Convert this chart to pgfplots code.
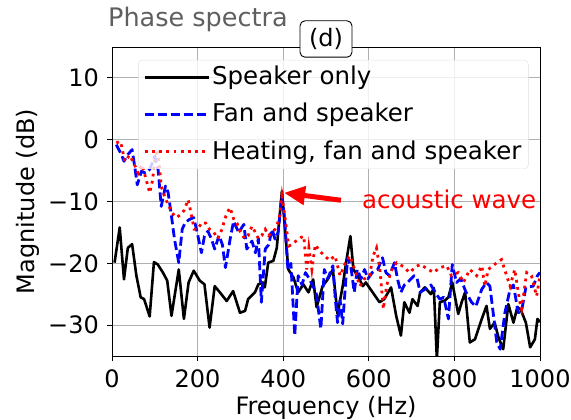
\documentclass[border=0pt]{standalone}
\usepackage{pgfplots}
\pgfplotsset{compat=1.18}
\usepackage{fontspec}
\setmainfont{DejaVu Sans}
\usetikzlibrary{calc,arrows.meta}
\definecolor{gridgray}{RGB}{176,176,176}
\definecolor{titlegray}{RGB}{95,95,95}
\pgfplotstableread{
f v
6 -19.9
18 -14.2
28 -22.6
37 -17.5
47 -16.9
57 -22
67 -25.5
75 -25.8
88 -28.6
98 -19.8
107 -20.2
119 -21.5
129 -22.8
139 -28.5
156 -21
168 -29
179 -23.1
191 -21.2
205 -22.8
216 -23.4
228 -30.4
240 -23.7
252 -24.7
268 -26.1
283 -24.5
299 -28
311 -27.7
318 -25.8
334 -24.7
342 -23.4
353 -23.1
357 -23.9
365 -19.9
377 -19.6
385 -17.5
397 -8.3
412 -21
424 -22.3
435 -24.7
447 -23.4
459 -24.7
470 -22.6
478 -27.1
492 -23.7
504 -22.6
516 -21
527 -28.2
539 -23.7
548 -19.4
557 -15.6
564 -21
574 -22
586 -23.7
593 -23.1
609 -24.7
625 -26.3
636 -25.8
652 -23.9
664 -28.5
675 -31.7
683 -26.3
695 -28
702 -25.8
714 -26.9
720 -24.7
731 -23.9
745 -25
752 -24
759 -35.5
766 -26.3
778 -26
786 -25.5
795 -23.1
809 -28.2
817 -26.3
825 -24.7
836 -32.8
848 -32.3
864 -29
875 -26.9
883 -30.6
894 -29.6
903 -32
914 -33.9
926 -26.6
938 -29.6
947 -27.1
955 -27.5
967 -29.6
977 -33.6
988 -32.3
994 -29
1000 -29.5
}\speaker
\pgfplotstableread{
f v
10 -0.8
22 -2.4
28 -3.5
37 -2.4
47 -1.6
53 -4.3
59 -7.3
69 -5.1
78 -5.4
88 -4.8
100 -2.7
108 -5
115 -10.8
125 -7.5
131 -8.5
139 -12.4
146 -16.1
156 -19.9
164 -14.5
171 -13.4
181 -12.9
191 -12.6
199 -15
209 -18.3
216 -15.6
224 -14.8
232 -16
240 -17.7
250 -15.5
258 -17
265 -20.7
276 -16.1
284 -13.2
296 -15
308 -13.7
315 -17.7
327 -16.4
335 -18.3
342 -16
349 -26.3
358 -17.7
366 -17
374 -14.5
381 -16.1
388 -15
397 -9.1
403 -12.5
411 -21
418 -20
427 -31.7
435 -22
444 -23.5
452 -21.5
461 -22.5
468 -23.5
477 -24.7
484 -28.5
488 -30.6
496 -21
504 -22.5
516 -20.4
522 -26
527 -29.6
533 -26
539 -29.8
547 -22
551 -19.1
559 -21
566 -24.7
573 -21
582 -22.5
590 -21
598 -22.5
608 -21.5
621 -21
632 -19.1
640 -21.5
648 -22
660 -19.9
667 -22.5
675 -24.7
683 -23.5
692 -23
706 -22
713 -22.5
720 -24.7
731 -24.2
745 -23.5
758 -25
766 -25.8
775 -25.5
786 -29
795 -20.2
805 -23.1
815 -22.5
826 -24.5
840 -26.3
850 -27
864 -24.2
875 -23.1
883 -23.7
899 -32.8
907 -33.9
918 -28
930 -24.2
938 -23.5
949 -28
957 -27.7
967 -23.9
984 -23.7
994 -22
1000 -21.5
}\fan
\pgfplotstableread{
f v
10 -0.5
20 -0.3
30 -3.5
41 -2.5
51 -3.8
61 -5.4
70 -4
80 -6.5
88 -8.6
95 -6.5
100 -3
107 -1.6
115 -7.5
122 -9
131 -10.5
140 -11.8
150 -12.6
159 -12.2
168 -11.5
178 -9.7
185 -12
192 -14.5
200 -14.5
210 -13.4
219 -13.5
228 -14.5
238 -15
247 -16
257 -14.5
263 -13
269 -11.8
276 -11
285 -13
292 -13.5
300 -15
310 -16
318 -15.5
327 -14
335 -15
342 -16
350 -15.5
358 -14.5
366 -15.5
374 -15
381 -14.5
390 -13
397 -9.1
405 -13
413 -17.2
420 -17
428 -16.5
436 -16.1
442 -15.8
448 -15.6
455 -21
460 -17.5
467 -21
475 -17
485 -18
497 -18.8
508 -19.5
521 -18.8
533 -22
545 -20
556 -18.8
567 -21
579 -23.7
590 -22.5
602 -22
610 -18.8
618 -17.5
626 -21
634 -27.4
642 -23.5
654 -21
665 -19.9
680 -20.5
695 -21.5
711 -20.5
720 -20.2
735 -20.8
751 -21.5
766 -20.7
782 -20.4
793 -22
809 -21.5
821 -23.1
836 -21
852 -22
864 -20.4
871 -23.7
879 -21
899 -19.9
910 -19.4
922 -22
930 -23.7
941 -21
953 -26.3
957 -27.4
969 -21.5
980 -22
992 -25.3
1000 -22
}\heating
\begin{document}
\fontsize{24bp}{28bp}\selectfont
\begin{tikzpicture}
\begin{axis}[
  name=ax,
  scale only axis,
  width=428bp, height=309bp,
  xmin=0, xmax=1000, ymin=-35, ymax=15,
  xtick={0,200,400,600,800,1000},
  xticklabels={0,200,400,600,800,1000},
  ytick={-30,-20,-10,0,10},
  yticklabels={−30,−20,−10,0,10},
  tick align=outside,
  tick pos=left,
  major tick length=5bp,
  tick style={black, line width=0.8bp},
  axis line style={black, line width=0.8bp},
  grid=major,
  grid style={gridgray, line width=0.8bp},
  tick label style={font=\fontsize{24bp}{28bp}\selectfont},
  label style={font=\fontsize{24bp}{28bp}\selectfont},
  xlabel={Frequency (Hz)},
  ylabel={Magnitude (dB)},
  xlabel style={yshift=7bp},
  ylabel style={yshift=-8bp},
  legend cell align=left,
  legend style={at={(rel axis cs:0.061,0.958)}, anchor=north west,
    draw=gray!25, rounded corners=4bp, fill=white, fill opacity=0.8, text opacity=1,
    font=\fontsize{24.5bp}{28bp}\selectfont, row sep=11bp,
    inner xsep=5bp, inner ysep=4bp},
  legend image code/.code={\draw[#1] (0bp,0bp) -- (48bp,0bp); \path (0bp,0bp) -- (64bp,0bp);},
  clip=true,
]
\addplot[black, line width=2.6bp, line join=round] table[x=f,y=v] {\speaker};
\addlegendentry{Speaker only}
\addplot[blue, line width=2.8bp, dash pattern=on 9bp off 4bp, line join=round] table[x=f,y=v] {\fan};
\addlegendentry{Fan and speaker}
\addplot[red, line width=2.8bp, dash pattern=on 2.8bp off 4.4bp] table[x=f,y=v] {\heating};
\addlegendentry{Heating, fan and speaker}
\draw[red, line width=5bp, -{Triangle[length=21bp,width=18bp]}] (axis cs:535,-9.8) -- (axis cs:402,-8.6);
\node[red, anchor=west, inner sep=0pt, font=\fontsize{24.5bp}{28bp}\selectfont] at (axis cs:584,-9.6) {acoustic wave};
\end{axis}
\node[titlegray, anchor=base west, inner sep=0pt, font=\fontsize{25.5bp}{30bp}\selectfont] at ($(ax.north west)+(-4bp,20bp)$) {Phase spectra};
\node[draw=black, line width=0.9bp, rounded corners=5bp, fill=white, inner xsep=9bp, inner ysep=7.5bp] at ($(ax.north)+(0,8bp)$) {(d)};
\pgfresetboundingbox
\path[use as bounding box] ($(ax.south west)+(-112bp,-64bp)$) rectangle ($(ax.north east)+(31bp,47bp)$);
\end{tikzpicture}
\end{document}
